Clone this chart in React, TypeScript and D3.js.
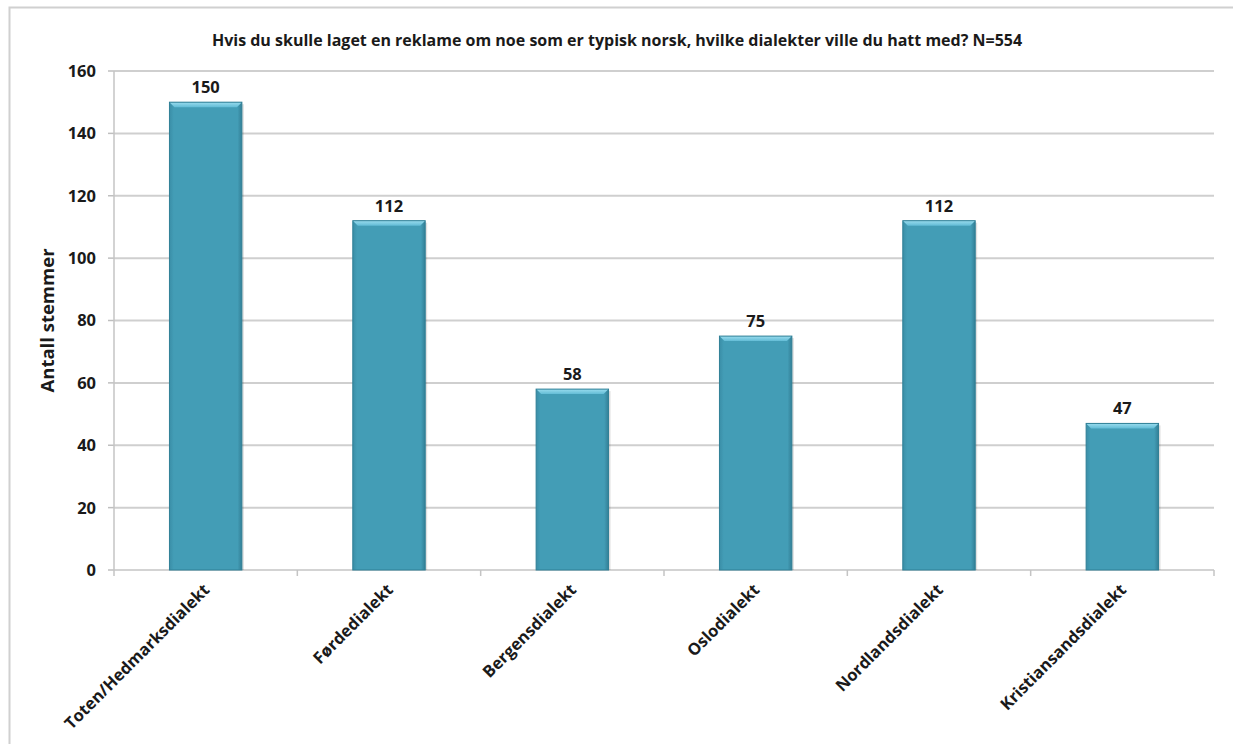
import React from "react";
import * as d3 from "d3";

const categories = [
  "Toten/Hedmarksdialekt",
  "Førdedialekt",
  "Bergensdialekt",
  "Oslodialekt",
  "Nordlandsdialekt",
  "Kristiansandsdialekt",
];
const votes = [150, 112, 58, 75, 112, 47];
const yTicks = [0, 20, 40, 60, 80, 100, 120, 140, 160];
const title = "Hvis du skulle laget en reklame om noe som er typisk norsk, hvilke dialekter ville du hatt med? N=554";
const yTitle = "Antall stemmer";

const W = 1233;
const H = 744;
const M = { left: 114, right: 1214, top: 71, bottom: 570 };
const FONT = "'Open Sans', sans-serif";

export default function App() {
  const x = d3
    .scaleBand<string>()
    .domain(categories)
    .range([M.left, M.right])
    .paddingInner(0.605)
    .paddingOuter(0.3025);
  const y = d3.scaleLinear().domain([0, 160]).range([M.bottom, M.top]);
  const step = x.step();
  const bw = x.bandwidth();

  return (
    <svg
      width={W}
      height={H}
      style={{ position: "absolute", left: 0, top: 0, background: "#fff" }}
      fontFamily={FONT}
    >
      <defs>
        <linearGradient id="barGrad" x1="0" x2="1" y1="0" y2="0">
          <stop offset="0" stopColor="#3a8ea7" />
          <stop offset="0.06" stopColor="#439db6" />
          <stop offset="0.94" stopColor="#439db6" />
          <stop offset="1" stopColor="#337f96" />
        </linearGradient>
        <linearGradient id="topGrad" x1="0" x2="0" y1="0" y2="1">
          <stop offset="0" stopColor="#9adcee" />
          <stop offset="1" stopColor="#62bcd6" />
        </linearGradient>
      </defs>
      {/* outer frame */}
      <rect x={9.5} y={7.5} width={W + 20} height={H + 20} fill="none" stroke="#d0d0d0" strokeWidth={2} />
      {/* title */}
      <text x={617} y={46} textAnchor="middle" fontSize={16} fontWeight="bold" fill="#1a1a1a">
        {title}
      </text>
      {/* grid */}
      {yTicks.map((t) => (
        <g key={t}>
          {t > 0 && (
            <line x1={M.left} x2={M.right} y1={y(t)} y2={y(t)} stroke="#cfcfcf" strokeWidth={2} />
          )}
          <line x1={M.left - 6} x2={M.left} y1={y(t)} y2={y(t)} stroke="#bfbfbf" strokeWidth={1.5} />
          <text
            x={M.left - 18}
            y={y(t)}
            dy="0.36em"
            textAnchor="end"
            fontSize={16.5}
            fontWeight="bold"
            fill="#1a1a1a"
          >
            {t}
          </text>
        </g>
      ))}
      {/* y axis */}
      <line x1={M.left} x2={M.left} y1={M.top} y2={M.bottom} stroke="#c4c4c4" strokeWidth={1.5} />
      {/* x axis */}
      <line x1={M.left} x2={M.right} y1={M.bottom} y2={M.bottom} stroke="#c4c4c4" strokeWidth={1.5} />
      {d3.range(categories.length + 1).map((i) => (
        <line
          key={i}
          x1={M.left + i * step}
          x2={M.left + i * step}
          y1={M.bottom}
          y2={M.bottom + 6}
          stroke="#c4c4c4"
          strokeWidth={1.5}
        />
      ))}
      {/* bars */}
      {categories.map((c, i) => {
        const x0 = x(c)!;
        const y0 = y(votes[i]);
        const h = M.bottom - y0;
        const bev = 5;
        return (
          <g key={c}>
            <rect x={x0 + 2} y={y0 + 2} width={bw} height={h - 2} fill="#000" opacity={0.12} />
            <rect x={x0} y={y0} width={bw} height={h} fill="url(#barGrad)" />
            <polygon
              points={`${x0},${y0} ${x0 + bw},${y0} ${x0 + bw - bev},${y0 + bev} ${x0 + bev},${y0 + bev}`}
              fill="url(#topGrad)"
            />
            <rect x={x0} y={y0} width={bw} height={h} fill="none" stroke="#2f7f96" strokeWidth={1} />
            <text
              x={x0 + bw / 2}
              y={y0 - 9}
              textAnchor="middle"
              fontSize={16.5}
              fontWeight="bold"
              fill="#1a1a1a"
            >
              {votes[i]}
            </text>
            <text
              transform={`translate(${x0 + bw / 2 + 5},${M.bottom + 21}) rotate(-45)`}
              textAnchor="end"
              fontSize={16.5}
              fontWeight="bold"
              fill="#1a1a1a"
            >
              {c}
            </text>
          </g>
        );
      })}
      {/* y title */}
      <text
        transform={`translate(54,${(M.top + M.bottom) / 2}) rotate(-90)`}
        textAnchor="middle"
        fontSize={18.5}
        fontWeight="bold"
        fill="#1a1a1a"
      >
        {yTitle}
      </text>
    </svg>
  );
}
